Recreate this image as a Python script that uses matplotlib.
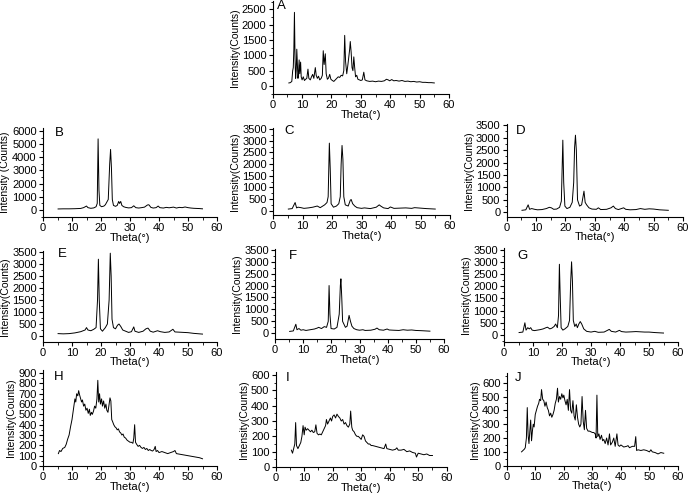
import matplotlib
matplotlib.use("Agg")
import matplotlib.pyplot as plt
from matplotlib.ticker import MultipleLocator, AutoMinorLocator

plt.rcParams['font.family'] = ['Liberation Sans', 'DejaVu Sans']

# ---------------- data ----------------
A_theta = [5.5, 6.0, 6.5, 6.8, 7.0, 7.2, 7.4, 7.6, 7.8, 8.0, 8.2, 8.4, 8.6, 8.8, 9.0, 9.2, 9.5, 9.7, 10.0, 10.4,
           10.8, 11.2, 11.6, 12.0, 12.3, 12.8, 13.2, 13.6, 14.0, 14.5, 14.8, 15.2, 15.6, 16.0, 16.5, 16.9, 17.2,
           17.5, 17.9, 18.2, 18.6, 19.0, 19.4, 19.8, 20.3, 20.8, 21.3, 21.8, 22.3, 22.8, 23.3, 23.8, 24.2, 24.5,
           24.8, 25.2, 25.6, 25.9, 26.2, 26.4, 26.7, 27.0, 27.3, 27.6, 27.9, 28.2, 28.6, 29.0, 29.5, 30.0, 30.5,
           31.0, 31.4, 32, 33, 34, 35, 36, 37, 38, 38.7, 39.3, 39.8, 40.5, 41.2, 42, 43, 44, 45, 46, 47, 48, 49,
           50, 51, 52, 53, 54, 55]
A_int = [100, 110, 150, 500, 600, 1200, 2400, 900, 250, 500, 1200, 700, 250, 450, 850, 400, 780, 300, 200, 300,
         180, 220, 250, 550, 250, 200, 300, 380, 250, 600, 350, 250, 320, 200, 250, 350, 1150,
         700, 1050, 400, 220, 260, 380, 220, 180, 150, 200, 250, 300, 280, 350, 330, 500, 1650,
         800, 400, 700, 950, 1200, 1450, 1100, 600, 500, 950, 600, 300, 350, 220, 200, 180, 200,
         450, 200, 170, 150, 160, 140, 160, 150, 170, 220, 200, 170, 210, 170, 180, 160, 180, 150, 160, 140, 150, 130,
         140, 120, 120, 110, 110, 100]

B_theta = [5.2, 7, 9, 11, 13, 14, 15, 15.5, 16.5, 17.5, 18.3, 18.7, 19.0, 19.3, 19.6, 20.2, 21, 21.5, 22, 22.5,
           23.0, 23.3, 23.6, 23.9, 24.3, 25, 25.6, 26.1, 26.4, 26.8, 27.2, 27.8, 28.5, 29.5, 30.5, 31.3, 32, 33,
           34, 35, 36, 36.5, 37.2, 38, 39, 39.7, 40.3, 41.5, 42.5, 43.5, 45, 46, 47, 48, 49, 50, 51, 52, 53, 54, 55]
B_int = [80, 90, 90, 100, 120, 180, 300, 180, 130, 160, 250, 500, 5400, 1500, 350, 250, 300, 400, 600, 800,
         3500, 4600, 3200, 800, 350, 280, 350, 650, 500, 650, 350, 250, 200, 160, 180, 320, 180, 150,
         180, 220, 380, 400, 200, 150, 180, 300, 180, 150, 200, 170, 220, 150, 200, 180, 230, 180, 150, 130, 120, 110, 90]

C_theta = [5.2, 6.5, 7.5, 8.0, 8.5, 9.5, 10.5, 12, 13.5, 15, 16, 17.5, 18.3, 18.7, 19.1, 19.4, 19.7, 20.5, 21.5,
           22.3, 22.8, 23.1, 23.4, 23.7, 24.0, 24.5, 25.5, 26.2, 26.5, 27, 27.7, 28.5, 30, 31, 33, 35, 36, 36.5,
           37.5, 39, 39.8, 41, 43, 45, 47, 48, 50, 52, 55]
C_int = [70, 90, 350, 120, 150, 130, 100, 120, 150, 200, 130, 250, 350, 600, 2900, 1800, 300, 150, 200,
         300, 600, 2000, 2800, 2200, 600, 250, 200, 450, 480, 300, 200, 130, 100, 120, 90, 150, 250, 200,
         120, 90, 160, 100, 110, 120, 100, 130, 110, 90, 70]

D_theta = [5.2, 6.5, 7.3, 7.8, 8.5, 9.5, 10.5, 12, 13.5, 14.5, 15.2, 16, 17, 18, 18.6, 19.1, 19.4, 19.8, 20.5,
           21.5, 22.3, 22.8, 23.1, 23.4, 23.7, 24.1, 24.8, 25.5, 26.3, 26.7, 27.2, 28, 29, 30.5, 31.2, 32, 34,
           35.5, 36.3, 37, 38, 39.8, 40.5, 42, 44, 45.5, 47, 48.5, 50, 52, 55]
D_int = [80, 100, 300, 120, 150, 120, 100, 110, 150, 200, 180, 120, 130, 200, 450, 2900, 1200, 250, 150,
         200, 400, 1200, 2600, 3100, 2500, 500, 250, 300, 850, 400, 300, 180, 130, 120, 180, 110, 120,
         180, 250, 150, 110, 180, 120, 100, 110, 150, 120, 140, 130, 100, 80]

E_theta = [5.2, 7, 9, 11, 13, 14.5, 15, 15.5, 16.5, 17.5, 18.3, 18.8, 19.1, 19.4, 19.8, 20.5, 21.5, 22.2, 22.8,
           23.2, 23.5, 23.8, 24.3, 25, 25.7, 26.2, 26.8, 27.5, 28.5, 29.5, 30.5, 31.3, 31.7, 33, 34.5, 35.5,
           36.2, 37, 38, 39.5, 40.5, 42, 43.5, 44.8, 45.5, 47, 48.5, 50, 52, 55]
E_int = [100, 90, 100, 130, 180, 250, 350, 250, 220, 280, 350, 1500, 3200, 1500, 300, 200, 350, 500, 1500,
         3450, 2500, 700, 350, 300, 450, 500, 400, 250, 200, 150, 180, 380, 200, 150, 200, 300,
         330, 200, 160, 220, 180, 150, 170, 280, 170, 160, 150, 140, 110, 80]

F_theta = [5.2, 6.5, 7.4, 7.8, 8.5, 9.2, 10, 11, 12.5, 14, 15, 15.5, 16.5, 17.5, 18.3, 18.9, 19.2, 19.5, 19.9,
           21, 22, 22.8, 23.2, 23.4, 23.7, 24, 25, 25.6, 26.3, 26.8, 27.3, 28, 29, 30, 31.2, 32, 34, 35.5, 36.2,
           37, 38.5, 39.8, 40.5, 42, 44, 45.5, 47, 48.5, 50, 52, 55]
F_int = [80, 100, 380, 150, 200, 130, 150, 120, 150, 180, 220, 250, 200, 280, 250, 500, 2000, 800, 200,
         180, 250, 800, 2000, 2280, 1500, 500, 250, 300, 750, 500, 300, 200, 150, 130, 150, 120, 130, 170, 220,
         150, 130, 180, 140, 130, 120, 150, 130, 140, 120, 110, 90]

G_theta = [5.2, 6.5, 7.2, 7.6, 8.2, 8.7, 9.2, 9.7, 10.5, 11.5, 12.5, 13.5, 14.5, 15, 15.8, 16.5, 17.3, 17.8,
           18.4, 18.8, 19.1, 19.4, 19.7, 20.3, 21, 22, 22.6, 23.0, 23.3, 23.6, 23.9, 24.4, 24.9, 25.3, 25.8,
           26.3, 26.8, 27.5, 28.5, 30, 31.3, 32.5, 34.5, 35.5, 36.3, 37, 38.5, 39.8, 40.5, 42, 44, 45.5, 47,
           48.5, 50, 52, 55]
G_int = [100, 120, 500, 200, 300, 250, 300, 200, 180, 200, 220, 250, 300, 320, 250, 280, 350, 450,
         300, 800, 2900, 1500, 300, 200, 250, 350, 600, 2200, 3000, 2200, 600, 350, 450, 300, 450,
         550, 450, 250, 150, 120, 150, 110, 120, 180, 230, 150, 120, 190, 140, 120, 130, 140, 130,
         120, 120, 100, 80]

H_theta = [5.3, 5.7, 6.2, 6.8, 7.5, 8, 8.5, 9, 9.5, 10, 10.5, 11, 11.3, 11.6, 12.0, 12.3, 12.6, 13, 13.3, 13.6,
           14, 14.4, 14.8, 15.2, 15.6, 16, 16.3, 16.7, 17, 17.4, 17.8, 18.2, 18.6, 18.9, 19.2, 19.5, 19.8, 20.2,
           20.5, 20.9, 21.3, 21.7, 22, 22.4, 22.8, 23.1, 23.4, 23.7, 24, 24.4, 24.8, 25.2, 25.6, 26, 26.4, 26.8,
           27.2, 27.6, 28, 28.5, 29, 29.5, 30, 30.5, 31, 31.3, 31.6, 31.9, 32.3, 32.8, 33.3, 33.8, 34.3, 34.8,
           35.3, 35.8, 36.3, 36.8, 37.3, 37.8, 38.3, 38.7, 39.0, 39.5, 40, 41, 42, 43, 44, 45, 45.5, 46, 47, 48,
           49, 50, 51, 52, 53, 54, 55]
H_int = [120, 150, 140, 170, 180, 210, 260, 300, 380, 450, 550, 650, 620, 700, 680, 730, 690, 650, 620, 640,
         580, 600, 540, 560, 510, 550, 490, 520, 500, 530, 580, 560, 650, 830, 620, 700, 600, 650,
         580, 630, 560, 600, 540, 520, 600, 660, 630, 450, 430, 400, 380, 370, 350, 360, 330, 320,
         300, 310, 280, 270, 250, 240, 230, 230, 220, 270, 400, 230, 210, 190, 200, 180, 170, 180,
         160, 170, 150, 160, 150, 145, 160, 190, 140, 150, 130, 140, 130, 120, 130, 140, 150, 120, 115, 110,
         105, 100, 95, 90, 85, 80, 70]

I_theta = [5.5, 5.9, 6.3, 6.7, 7.0, 7.3, 7.8, 8.3, 8.8, 9.2, 9.6, 10, 10.3, 10.7, 11.2, 11.7, 12.2, 12.7, 13.2,
           13.7, 14.1, 14.5, 15, 15.5, 16, 16.5, 17, 17.5, 17.8, 18.2, 18.7, 19.2, 19.6, 20, 20.5, 21, 21.5,
           22, 22.5, 23, 23.5, 24, 24.5, 25, 25.5, 26, 26.3, 26.7, 27, 27.5, 28, 28.5, 29, 29.5, 30, 30.5, 31,
           31.5, 32, 32.5, 33, 33.5, 34, 35, 36, 37, 38, 38.6, 39, 40, 41, 42, 42.5, 43, 44, 45, 46, 47, 48, 49,
           49.4, 50, 51, 52, 53, 54, 55]
I_int = [110, 90, 120, 150, 290, 140, 120, 140, 160, 200, 270, 210, 260, 240, 250, 240, 230, 240, 225,
         230, 275, 220, 210, 215, 210, 230, 250, 270, 310, 280, 300, 320, 300, 330, 340, 320, 345,
         330, 320, 300, 310, 280, 290, 270, 260, 280, 365, 260, 240, 230, 210, 200, 200, 190, 180, 210, 200,
         170, 160, 150, 150, 140, 140, 135, 130, 125, 120, 150, 120, 115, 110, 115, 125, 110, 110, 115, 100, 105, 95, 90,
         65, 90, 85, 80, 85, 75, 75]

J_theta = [5.2, 5.7, 6.2, 6.5, 6.9, 7.2, 7.5, 7.8, 8.1, 8.4, 8.7, 9.0, 9.3, 9.6, 10, 10.4, 10.8, 11.2, 11.5,
           11.9, 12.2, 12.6, 13, 13.4, 13.8, 14.2, 14.6, 15, 15.4, 15.8, 16.2, 16.6, 17.0, 17.4, 17.8, 18.1,
           18.5, 18.9, 19.3, 19.7, 20, 20.4, 20.8, 21.2, 21.6, 22, 22.4, 22.8, 23.2, 23.6, 24, 24.4, 24.8,
           25.2, 25.6, 26, 26.4, 26.8, 27.2, 27.6, 28, 28.5, 29, 29.5, 30, 30.5, 31, 31.3, 31.6, 31.9, 32.3,
           32.7, 33.2, 33.6, 34, 34.5, 35, 35.5, 36, 36.4, 37, 37.5, 38, 38.6, 39, 39.5, 40, 41, 42, 42.5, 43,
           44, 44.8, 45.2, 45.5, 46, 47, 48, 49, 50, 50.5, 51, 52, 53, 54, 55]
J_int = [100, 110, 120, 130, 200, 420, 220, 160, 250, 330, 180, 250, 300, 280, 370, 400, 430, 450, 480,
         470, 550, 480, 470, 430, 460, 420, 400, 360, 380, 350, 370, 400, 450, 480, 560, 460,
         500, 480, 520, 490, 510, 470, 440, 480, 400, 550, 400, 380, 470, 360, 330, 440, 350,
         300, 280, 300, 500, 320, 260, 400, 270, 250, 250, 245, 240, 240, 230, 200, 510, 210, 230,
         190, 220, 180, 190, 160, 200, 150, 230, 150, 170, 200, 140, 230, 150, 140, 150, 135, 140, 145, 130,
         140, 140, 210, 110, 115, 110, 115, 110, 100, 115, 100, 95, 85, 95, 90]

panel_names = ['A', 'B', 'C', 'D', 'E', 'F', 'G', 'H', 'I', 'J']
panel_data = {'A': (A_theta, A_int), 'B': (B_theta, B_int), 'C': (C_theta, C_int), 'D': (D_theta, D_int),
              'E': (E_theta, E_int), 'F': (F_theta, F_int), 'G': (G_theta, G_int), 'H': (H_theta, H_int),
              'I': (I_theta, I_int), 'J': (J_theta, J_int)}
y_labels = {'B': 'Intensity (Counts)'}
default_ylabel = 'Intensity(Counts)'
x_label = 'Theta(°)'

# ---------------- layout (pixels) ----------------
W, H = 691, 493
# name: (left, right, bottom, top) in pixels, ylim, ytick step, letter position
layout = {
    'A': ((272.7, 449, 94, 1), (-260, 2770), 500, (277, 6)),
    'B': ((43, 217, 217, 128), (-530, 6225), 1000, (55, 133)),
    'C': ((273, 450, 215, 128), (-185, 3550), 500, (284, 131)),
    'D': ((506.7, 683, 216.7, 124), (-177, 3550), 500, (516, 131)),
    'E': ((43, 217, 341.7, 250.8), (-237, 3550), 500, (58, 254)),
    'F': ((275, 444, 339, 248.5), (-238, 3550), 500, (289, 256)),
    'G': ((504, 678, 341.7, 248.4), (-275, 3550), 500, (517, 256)),
    'H': ((43, 217, 466, 370), (0, 930), 100, (54, 377)),
    'I': ((275.7, 446.7, 467, 372), (0, 620), 100, (286, 378)),
    'J': ((506.7, 678, 465.7, 373), (0, 670), 100, (515, 378)),
}

fig = plt.figure(figsize=(W / 100, H / 100), dpi=100)

for name in panel_names:
    (l, r, b, t), ylim, ystep, (lx, ly) = layout[name]
    ax = fig.add_axes([l / W, 1 - b / H, (r - l) / W, (b - t) / H])
    th, it = panel_data[name]
    ax.plot(th, it, color='black', lw=0.7)
    ax.set_xlim(0, 60)
    ax.set_ylim(*ylim)
    ax.xaxis.set_major_locator(MultipleLocator(10))
    ax.yaxis.set_major_locator(MultipleLocator(ystep))
    ax.xaxis.set_minor_locator(AutoMinorLocator(2))
    ax.yaxis.set_minor_locator(AutoMinorLocator(2))
    ax.set_yticks([v for v in ax.get_yticks() if 0 <= v <= ylim[1]])
    for s in ['top', 'right']:
        ax.spines[s].set_visible(False)
    for s in ['left', 'bottom']:
        ax.spines[s].set_linewidth(0.8)
    ax.tick_params(which='major', direction='out', length=3, width=0.8, labelsize=8, pad=1.5)
    ax.tick_params(which='minor', direction='out', length=1.8, width=0.6)
    ax.set_xlabel(x_label, fontsize=8, labelpad=-0.5)
    ax.set_ylabel(y_labels.get(name, default_ylabel), fontsize=7.5, labelpad=1.5)
    ax.set_facecolor('none')
    fig.text(lx / W, 1 - ly / H, name, fontsize=9.5, ha='left', va='center')

fig.savefig('out.png', dpi=100)
